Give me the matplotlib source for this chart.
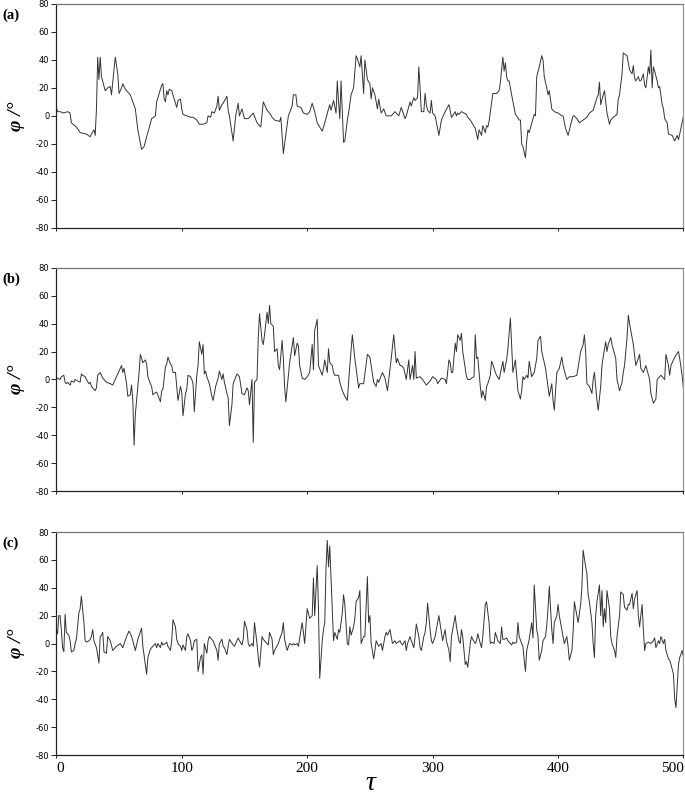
"""
Three stacked time series of phi versus tau, panels (a), (b), (c)
"""
import matplotlib
matplotlib.use("Agg")
import matplotlib.pyplot as plt


tau_a = [0, 1, 3, 6, 9, 11, 12, 16, 19, 24, 27, 28, 30, 31, 32, 33, 34, 35, 36, 39,
         41, 43, 44, 47, 49, 50, 52, 53, 55, 59, 61, 63, 65, 68, 70, 72, 73, 76, 79, 80,
         82, 84, 85, 86, 87, 88, 89, 90, 92, 93, 96, 97, 99, 100, 101, 104, 107, 109, 112, 114,
         117, 120, 121, 123, 124, 126, 128, 129, 130, 132, 133, 136, 137, 138, 141, 143, 145, 146, 148, 150,
         153, 156, 157, 160, 163, 165, 168, 170, 172, 174, 178, 179, 181, 182, 185, 188, 189, 191, 192, 195,
         197, 200, 202, 204, 206, 208, 210, 212, 214, 217, 218, 219, 221, 223, 224, 225, 226, 227, 229, 230,
         232, 233, 235, 237, 239, 240, 242, 243, 244, 245, 246, 247, 248, 250, 251, 252, 254, 256, 257, 259,
         261, 263, 267, 270, 273, 275, 278, 279, 282, 283, 285, 286, 288, 289, 290, 291, 293, 294, 295, 296,
         298, 299, 300, 302, 305, 307, 310, 313, 314, 315, 316, 318, 319, 320, 321, 323, 325, 327, 328, 330,
         332, 334, 336, 337, 339, 340, 342, 343, 344, 345, 348, 351, 353, 354, 356, 357, 358, 359, 360, 361,
         363, 366, 367, 369, 370, 371, 372, 374, 375, 376, 377, 380, 381, 382, 383, 385, 387, 388, 389, 391,
         392, 393, 395, 397, 400, 403, 404, 406, 408, 411, 412, 413, 415, 417, 420, 423, 425, 428, 431, 432,
         433, 434, 436, 437, 439, 441, 442, 444, 447, 448, 449, 451, 452, 455, 456, 457, 459, 460, 461, 462,
         464, 465, 466, 468, 469, 470, 472, 473, 474, 475, 476, 477, 479, 480, 481, 483, 484, 485, 487, 488,
         491, 492, 493, 495, 496, 497, 500]
phi_a = [6, 3, 3, 2, 3, 2, -5, -8, -12, -13, -15, -13, -10, -14, 5, 42, 26, 42, 28, 18,
         20, 21, 15, 42, 30, 16, 20, 23, 19, 15, 10, 5, -10, -24, -22, -15, -12, -2, 0, 10,
         16, 22, 23, 12, 10, 18, 15, 19, 18, 15, 6, 11, 12, 5, 1, 0, -1, -1, -3, -6,
         -6, -5, 0, -1, 3, 2, 7, 14, 4, 8, 9, 14, 4, 0, -18, 0, 9, 0, 5, -2,
         -2, 1, 2, -5, -8, 10, 4, 2, -1, -3, -4, -1, -27, -20, 0, 7, 15, 15, 7, 6,
         2, 1, 3, 9, 3, -5, -8, -11, -5, 5, 8, 4, 11, 2, 25, 10, -2, 25, -19, -18,
         -3, 2, 15, 20, 43, 41, 35, 43, 30, 16, 40, 33, 26, 23, 12, 20, 15, 5, 12, 2,
         5, 0, 0, 3, 0, 6, -2, 0, 10, 7, 13, 11, 13, 35, 20, 3, 3, 16, 8, 4,
         2, 11, 2, 0, -14, -3, 3, 8, 4, -1, 0, 3, 0, 2, 1, 3, 2, 1, -1, -3,
         -6, -9, -17, -10, -14, -7, -12, -7, -8, -4, 16, 16, 18, 24, 42, 32, 38, 28, 25, 25,
         15, 1, 0, -3, -3, -20, -22, -30, -18, -10, -12, -2, 1, 0, 28, 35, 43, 40, 28, 20,
         15, 18, 5, 3, 2, 0, 0, -9, -14, -3, 0, 0, -2, -5, -3, -1, 2, 4, 13, 15,
         24, 8, 15, 18, 2, -6, -3, -1, 1, 12, 15, 30, 45, 43, 38, 33, 30, 36, 27, 25,
         28, 25, 25, 30, 22, 20, 35, 30, 47, 20, 35, 32, 25, 20, 21, 8, 5, -2, -5, -13,
         -14, -16, -18, -14, -17, -13, 0]

tau_b = [0, 1, 3, 4, 6, 7, 8, 9, 11, 12, 14, 15, 17, 19, 20, 21, 23, 24, 26, 27,
         28, 31, 32, 33, 35, 36, 37, 40, 43, 45, 47, 48, 50, 52, 53, 54, 56, 57, 59, 60,
         61, 62, 63, 65, 66, 67, 69, 71, 72, 73, 75, 76, 77, 78, 80, 83, 84, 85, 87, 88,
         89, 91, 92, 93, 95, 96, 97, 99, 100, 101, 103, 104, 105, 107, 108, 109, 110, 112, 113, 114,
         116, 117, 118, 119, 120, 122, 124, 125, 127, 129, 130, 132, 133, 134, 136, 137, 138, 140, 141, 144,
         146, 148, 150, 152, 153, 154, 156, 157, 158, 160, 161, 162, 164, 165, 166, 168, 169, 170, 171, 173,
         174, 176, 177, 178, 180, 181, 182, 183, 186, 189, 190, 192, 193, 194, 196, 198, 200, 202, 204, 205,
         206, 208, 209, 212, 213, 214, 216, 217, 218, 220, 221, 222, 225, 226, 228, 230, 232, 234, 236, 238,
         241, 242, 245, 248, 250, 253, 255, 256, 257, 260, 262, 264, 267, 269, 271, 272, 274, 275, 277, 279,
         281, 282, 284, 285, 286, 287, 290, 292, 295, 298, 300, 303, 304, 307, 310, 311, 313, 314, 315, 316,
         318, 319, 320, 322, 323, 324, 327, 328, 330, 331, 333, 334, 335, 336, 338, 339, 340, 342, 343, 344,
         346, 347, 348, 350, 351, 353, 356, 357, 359, 360, 362, 364, 366, 367, 368, 370, 371, 372, 373, 375,
         376, 377, 379, 381, 383, 384, 386, 387, 390, 392, 393, 395, 396, 397, 399, 401, 403, 404, 406, 407,
         409, 412, 415, 418, 420, 421, 422, 423, 425, 427, 428, 429, 431, 432, 434, 435, 436, 438, 439, 440,
         442, 443, 446, 447, 449, 451, 452, 453, 455, 456, 457, 460, 462, 464, 465, 466, 468, 470, 473, 474,
         476, 478, 479, 482, 485, 486, 488, 489, 490, 493, 496, 497, 499, 500]
phi_b = [0, 1, 0, 2, 3, -2, -3, -2, -4, -1, -2, 0, -1, -2, 4, 3, 2, 0, -3, -2,
         -5, -8, -6, 3, 5, 3, 1, -2, -3, -4, 0, 2, 6, 10, 5, 8, -3, -12, -11, -4,
         -15, -47, -25, -5, 5, 18, 12, 14, 11, 2, -3, -5, -11, -10, -9, -16, -8, -7, 9, 11,
         16, 11, 10, 5, 5, -5, -15, -5, -9, -26, -10, -7, 3, 2, 0, -3, -23, 3, 10, 27,
         18, 25, 4, 6, 2, -3, -12, -15, -5, 1, 6, 0, 4, -2, -10, -13, -33, -18, -3, 4,
         2, -10, -11, -6, -8, -18, 0, -45, -2, 0, 30, 47, 28, 25, 32, 48, 40, 53, 40, 38,
         20, 22, 10, 7, 28, 15, -5, -16, 12, 30, 17, 26, 24, 10, 1, 0, 2, 5, 25, 7,
         35, 43, 10, 3, 8, 14, 5, 22, 12, 10, 5, 3, 3, -2, -8, -12, -15, 10, 32, 15,
         -6, -3, -3, 18, 16, -2, -5, 0, -2, 5, 1, -8, 15, 32, 12, 15, 10, 10, 8, 0,
         14, 0, 10, 0, 20, 1, 2, 0, -4, -1, 2, 0, -3, 1, 0, -3, 14, 12, 5, 5,
         26, 20, 32, 28, 33, 20, 2, 0, 0, 1, 2, 32, 15, 16, -5, -13, -8, -15, -5, -3,
         3, 13, 11, 5, 3, 0, 13, 5, 14, 22, 44, 5, 14, 3, -8, -14, -8, 2, 0, 3,
         1, 13, 2, 5, 15, 28, 31, 20, 8, -5, -12, -3, -15, -22, 5, 8, 16, 10, 3, 0,
         2, 2, 3, 20, 25, 32, 20, -3, -5, -10, 0, 5, -15, -22, -5, 10, 16, 27, 20, 25,
         30, 25, 15, 0, -8, -2, 5, 10, 30, 46, 40, 25, 10, 15, 18, 8, 5, 10, 0, -10,
         -17, -14, 0, 3, 0, 18, 10, 3, 10, 16, 20, 15, 2, -7]

tau_c = [0, 1, 2, 3, 4, 5, 6, 7, 8, 10, 11, 12, 14, 15, 16, 18, 19, 20, 22, 23,
         24, 26, 27, 28, 29, 30, 32, 34, 35, 36, 37, 38, 40, 41, 43, 45, 48, 51, 53, 56,
         58, 60, 61, 63, 65, 68, 69, 71, 72, 73, 75, 76, 79, 80, 81, 83, 84, 85, 87, 88,
         89, 91, 92, 93, 95, 96, 97, 99, 100, 101, 103, 104, 105, 107, 108, 109, 110, 112, 113, 115,
         116, 117, 118, 120, 121, 122, 125, 128, 129, 130, 132, 133, 134, 136, 137, 138, 141, 142, 145, 146,
         148, 149, 150, 152, 153, 154, 156, 157, 158, 160, 161, 162, 164, 165, 168, 169, 170, 172, 173, 174,
         177, 178, 180, 181, 182, 184, 186, 188, 189, 190, 192, 193, 196, 197, 198, 200, 202, 204, 205, 206,
         208, 209, 210, 212, 213, 214, 215, 216, 217, 218, 220, 221, 222, 224, 225, 226, 228, 229, 230, 232,
         233, 234, 235, 237, 238, 239, 241, 242, 243, 245, 246, 248, 249, 250, 251, 253, 254, 255, 257, 258,
         259, 260, 262, 263, 264, 266, 267, 268, 270, 271, 274, 275, 276, 278, 279, 280, 282, 283, 285, 286,
         287, 289, 290, 291, 293, 294, 295, 296, 298, 299, 300, 302, 303, 305, 307, 308, 310, 311, 313, 314,
         315, 317, 318, 319, 321, 322, 323, 324, 326, 327, 328, 330, 331, 332, 334, 335, 336, 338, 339, 340,
         342, 343, 345, 346, 347, 349, 350, 351, 352, 354, 355, 356, 357, 359, 360, 361, 363, 364, 365, 367,
         368, 369, 371, 372, 373, 374, 375, 377, 379, 380, 381, 383, 384, 385, 387, 388, 390, 391, 392, 393,
         395, 396, 397, 399, 400, 401, 403, 404, 405, 407, 408, 409, 411, 412, 413, 415, 416, 418, 419, 420,
         422, 423, 424, 425, 427, 428, 429, 430, 431, 433, 434, 435, 436, 437, 438, 439, 441, 442, 443, 445,
         446, 447, 449, 450, 452, 453, 455, 456, 457, 459, 460, 461, 463, 464, 465, 467, 468, 469, 470, 472,
         474, 476, 477, 478, 480, 481, 482, 484, 485, 486, 488, 489, 490, 492, 493, 494, 496, 497, 499, 500]
phi_c = [10, 7, 20, 20, 10, -3, -6, 21, 8, 6, 2, -6, -5, 0, 3, 22, 25, 34, 15, 2,
         1, 2, 3, 5, 10, 2, -3, -14, 5, 6, 8, -6, -7, 5, 2, -5, -2, 0, -3, 5,
         9, 5, 2, -5, 3, 11, -2, -15, -22, -10, -4, -3, 0, -3, 0, -3, 1, -1, 0, 1,
         -2, -5, 2, 17, 12, 3, 0, -2, -5, -1, -5, 5, 7, 2, -5, -3, 2, 3, -20, -10,
         -8, -22, 0, -7, 2, 5, 2, -5, -12, 0, 3, -2, -3, -8, -2, 3, -1, -2, 4, 2,
         -1, 3, 16, 10, 0, -2, 0, -2, 15, 0, -10, -17, 5, 3, 0, -1, 8, 3, -8, -5,
         0, 3, 8, 15, 3, -5, 0, -1, 0, -1, 0, -2, 15, 8, 0, 25, 18, 20, 47, 20,
         56, 25, -25, 2, 10, 15, 54, 74, 55, 70, 25, 2, 8, 3, 10, 8, 22, 35, 28, 0,
         -1, 12, 6, 12, 18, 30, 33, 38, 0, 5, 5, 48, 15, 20, 0, -11, -5, 2, -2, -1,
         0, -5, 5, 8, 6, 10, 5, 0, 2, 0, 2, 0, -1, 2, -5, 0, 5, 2, -3, 5,
         14, 5, -3, -5, 5, 8, 15, 29, 10, 2, 0, 5, 10, 20, 8, 2, 10, 2, -5, -13,
         5, 15, 20, 12, 2, 0, 10, 5, -15, -13, -17, 0, 5, 3, 0, 2, 7, 0, -3, 5,
         28, 30, 15, 0, 1, 0, 8, 5, 2, 0, 12, 3, 3, 4, 2, 1, -1, 1, 0, 1,
         15, 5, 0, -2, -12, -20, -5, 3, 15, 4, 42, 10, 5, -12, -5, 2, 5, 13, 25, 41,
         10, 0, 15, 20, 28, 20, 10, 5, 0, 5, -2, -12, -5, 8, 30, 20, 15, 28, 40, 67,
         55, 50, 35, 30, 15, 0, -10, 20, 30, 42, 20, 38, 12, 25, 15, 38, 25, 5, 0, -5,
         -10, 5, 20, 37, 35, 26, 24, 28, 28, 36, 25, 32, 38, 20, 12, 28, 10, -5, 0, 1,
         0, 2, 4, -3, 2, 0, 5, 0, 3, -5, -11, -12, -15, -22, -40, -46, -15, -10, -5, -10]

panel_labels = ["(a)", "(b)", "(c)"]
yticks = [-80, -60, -40, -20, 0, 20, 40, 60, 80]
xticks = [0, 100, 200, 300, 400, 500]

series = [(tau_a, phi_a), (tau_b, phi_b), (tau_c, phi_c)]
# axes boxes in figure fractions [left, bottom, width, height]
boxes = [[0.0822, 0.7154, 0.9156, 0.2796],
         [0.0822, 0.3859, 0.9156, 0.2795],
         [0.0822, 0.0562, 0.9156, 0.2788]]

fig = plt.figure(figsize=(6.85, 8.0), dpi=100)

for i, ((t, p), box, lab) in enumerate(zip(series, boxes, panel_labels)):
    ax = fig.add_axes(box)
    ax.plot(t, p, color="#333333", lw=0.7)
    ax.set_xlim(0, 500)
    ax.set_ylim(-80, 80)
    ax.set_yticks(yticks)
    ax.set_yticklabels([str(v) for v in yticks], family="DejaVu Sans", fontsize=6)
    ax.set_xticks(xticks)
    ax.tick_params(axis="y", direction="out", length=3.5, width=0.6, pad=1.5)
    ax.tick_params(axis="x", direction="out", length=2, width=0.6, pad=3)
    if i < 2:
        ax.set_xticklabels([])
    else:
        labels = ax.set_xticklabels([str(v) for v in xticks], family="Liberation Serif", fontsize=11)
        # end labels sit inside the frame, as in the original
        labels[0].set_horizontalalignment("left")
        labels[-1].set_horizontalalignment("right")
        ax.set_xlabel("τ", family="Liberation Serif", style="italic", fontsize=20, labelpad=-3)
    ax.spines["left"].set_color("#222222")
    ax.spines["bottom"].set_color("#222222")
    ax.spines["top"].set_color("#777777")
    ax.spines["right"].set_color("#999999")
    for s in ax.spines.values():
        s.set_linewidth(0.9)
    ax.set_ylabel("φ /°", family="Liberation Serif", style="italic", weight="bold",
                  fontsize=14, labelpad=8)
    fig.text(0.003, box[1] + box[3] - 0.014, lab, family="Liberation Serif",
             weight="bold", fontsize=10.5, va="center", ha="left")

fig.savefig("out.png", dpi=100)
